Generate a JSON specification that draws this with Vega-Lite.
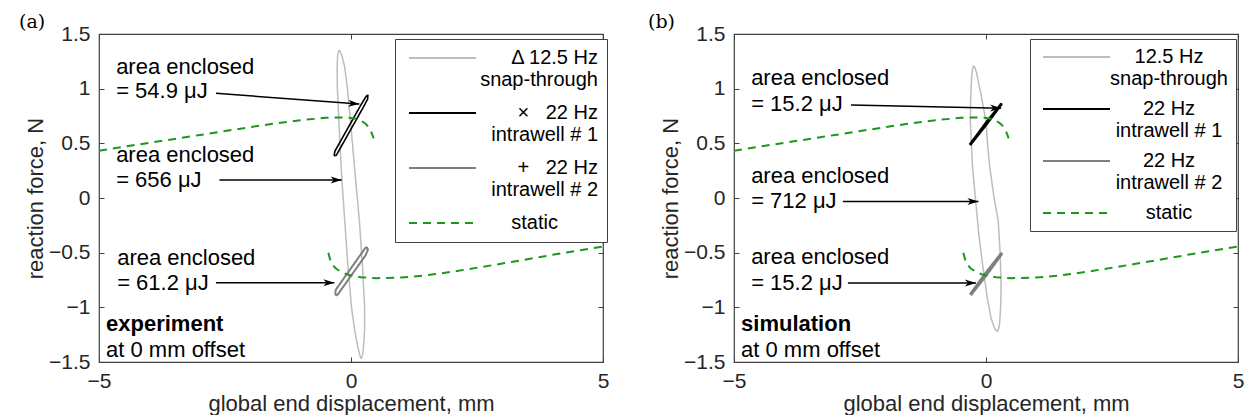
{
  "$schema": "https://vega.github.io/schema/vega-lite/v6.json",
  "background": "white",
  "padding": {"left": 18, "top": 12, "right": 0, "bottom": 0},
  "autosize": {"type": "pad"},
  "bounds": "flush",
  "spacing": 131,
  "datasets": {
    "loopsA": [
      {"series": "snap-through", "order": 0, "x": -0.23, "y": 1.354},
      {"series": "snap-through", "order": 1, "x": -0.25, "y": 1.335},
      {"series": "snap-through", "order": 2, "x": -0.265, "y": 1.3},
      {"series": "snap-through", "order": 3, "x": -0.275, "y": 1.2},
      {"series": "snap-through", "order": 4, "x": -0.27, "y": 1.0},
      {"series": "snap-through", "order": 5, "x": -0.25, "y": 0.8},
      {"series": "snap-through", "order": 6, "x": -0.23, "y": 0.6},
      {"series": "snap-through", "order": 7, "x": -0.185, "y": 0.2},
      {"series": "snap-through", "order": 8, "x": -0.125, "y": -0.2},
      {"series": "snap-through", "order": 9, "x": -0.065, "y": -0.6},
      {"series": "snap-through", "order": 10, "x": 0.01, "y": -1.0},
      {"series": "snap-through", "order": 11, "x": 0.07, "y": -1.2},
      {"series": "snap-through", "order": 12, "x": 0.13, "y": -1.35},
      {"series": "snap-through", "order": 13, "x": 0.165, "y": -1.42},
      {"series": "snap-through", "order": 14, "x": 0.185, "y": -1.455},
      {"series": "snap-through", "order": 15, "x": 0.2, "y": -1.467},
      {"series": "snap-through", "order": 16, "x": 0.215, "y": -1.455},
      {"series": "snap-through", "order": 17, "x": 0.235, "y": -1.42},
      {"series": "snap-through", "order": 18, "x": 0.25, "y": -1.35},
      {"series": "snap-through", "order": 19, "x": 0.27, "y": -1.2},
      {"series": "snap-through", "order": 20, "x": 0.27, "y": -1.0},
      {"series": "snap-through", "order": 21, "x": 0.225, "y": -0.6},
      {"series": "snap-through", "order": 22, "x": 0.165, "y": -0.2},
      {"series": "snap-through", "order": 23, "x": 0.085, "y": 0.2},
      {"series": "snap-through", "order": 24, "x": 0.01, "y": 0.6},
      {"series": "snap-through", "order": 25, "x": -0.03, "y": 0.8},
      {"series": "snap-through", "order": 26, "x": -0.07, "y": 1.0},
      {"series": "snap-through", "order": 27, "x": -0.125, "y": 1.2},
      {"series": "snap-through", "order": 28, "x": -0.18, "y": 1.3},
      {"series": "snap-through", "order": 29, "x": -0.21, "y": 1.335},
      {"series": "snap-through", "order": 30, "x": -0.23, "y": 1.354},
      {"series": "intrawell # 1", "order": 0, "x": -0.335, "y": 0.385},
      {"series": "intrawell # 1", "order": 1, "x": -0.32, "y": 0.428},
      {"series": "intrawell # 1", "order": 2, "x": -0.2, "y": 0.526},
      {"series": "intrawell # 1", "order": 3, "x": 0.0, "y": 0.69},
      {"series": "intrawell # 1", "order": 4, "x": 0.2, "y": 0.854},
      {"series": "intrawell # 1", "order": 5, "x": 0.3, "y": 0.93},
      {"series": "intrawell # 1", "order": 6, "x": 0.335, "y": 0.94},
      {"series": "intrawell # 1", "order": 7, "x": 0.33, "y": 0.905},
      {"series": "intrawell # 1", "order": 8, "x": 0.25, "y": 0.835},
      {"series": "intrawell # 1", "order": 9, "x": 0.05, "y": 0.671},
      {"series": "intrawell # 1", "order": 10, "x": -0.15, "y": 0.507},
      {"series": "intrawell # 1", "order": 11, "x": -0.29, "y": 0.392},
      {"series": "intrawell # 1", "order": 12, "x": -0.335, "y": 0.385},
      {"series": "intrawell # 2", "order": 0, "x": -0.312, "y": -0.868},
      {"series": "intrawell # 2", "order": 1, "x": -0.305, "y": -0.845},
      {"series": "intrawell # 2", "order": 2, "x": -0.28, "y": -0.824},
      {"series": "intrawell # 2", "order": 3, "x": -0.1, "y": -0.707},
      {"series": "intrawell # 2", "order": 4, "x": 0.1, "y": -0.577},
      {"series": "intrawell # 2", "order": 5, "x": 0.29, "y": -0.453},
      {"series": "intrawell # 2", "order": 6, "x": 0.32, "y": -0.455},
      {"series": "intrawell # 2", "order": 7, "x": 0.335, "y": -0.47},
      {"series": "intrawell # 2", "order": 8, "x": 0.32, "y": -0.49},
      {"series": "intrawell # 2", "order": 9, "x": 0.29, "y": -0.524},
      {"series": "intrawell # 2", "order": 10, "x": 0.1, "y": -0.647},
      {"series": "intrawell # 2", "order": 11, "x": -0.1, "y": -0.777},
      {"series": "intrawell # 2", "order": 12, "x": -0.26, "y": -0.881},
      {"series": "intrawell # 2", "order": 13, "x": -0.29, "y": -0.89},
      {"series": "intrawell # 2", "order": 14, "x": -0.308, "y": -0.882},
      {"series": "intrawell # 2", "order": 15, "x": -0.312, "y": -0.868}
    ],
    "loopsB": [
      {"series": "snap-through", "order": 0, "x": -0.25, "y": 1.21},
      {"series": "snap-through", "order": 1, "x": -0.27, "y": 1.17},
      {"series": "snap-through", "order": 2, "x": -0.285, "y": 1.1},
      {"series": "snap-through", "order": 3, "x": -0.305, "y": 0.9},
      {"series": "snap-through", "order": 4, "x": -0.31, "y": 0.7},
      {"series": "snap-through", "order": 5, "x": -0.29, "y": 0.5},
      {"series": "snap-through", "order": 6, "x": -0.27, "y": 0.3},
      {"series": "snap-through", "order": 7, "x": -0.21, "y": 0.0},
      {"series": "snap-through", "order": 8, "x": -0.15, "y": -0.3},
      {"series": "snap-through", "order": 9, "x": -0.07, "y": -0.6},
      {"series": "snap-through", "order": 10, "x": 0.02, "y": -0.9},
      {"series": "snap-through", "order": 11, "x": 0.1, "y": -1.1},
      {"series": "snap-through", "order": 12, "x": 0.17, "y": -1.19},
      {"series": "snap-through", "order": 13, "x": 0.2, "y": -1.212},
      {"series": "snap-through", "order": 14, "x": 0.23, "y": -1.22},
      {"series": "snap-through", "order": 15, "x": 0.255, "y": -1.19},
      {"series": "snap-through", "order": 16, "x": 0.27, "y": -1.15},
      {"series": "snap-through", "order": 17, "x": 0.29, "y": -1.0},
      {"series": "snap-through", "order": 18, "x": 0.3, "y": -0.8},
      {"series": "snap-through", "order": 19, "x": 0.28, "y": -0.5},
      {"series": "snap-through", "order": 20, "x": 0.24, "y": -0.2},
      {"series": "snap-through", "order": 21, "x": 0.16, "y": 0.0},
      {"series": "snap-through", "order": 22, "x": 0.07, "y": 0.3},
      {"series": "snap-through", "order": 23, "x": 0.03, "y": 0.5},
      {"series": "snap-through", "order": 24, "x": 0.0, "y": 0.7},
      {"series": "snap-through", "order": 25, "x": -0.1, "y": 0.95},
      {"series": "snap-through", "order": 26, "x": -0.19, "y": 1.15},
      {"series": "snap-through", "order": 27, "x": -0.22, "y": 1.195},
      {"series": "snap-through", "order": 28, "x": -0.25, "y": 1.21},
      {"series": "intrawell # 1", "order": 0, "x": -0.32, "y": 0.485},
      {"series": "intrawell # 1", "order": 1, "x": 0.0, "y": 0.684},
      {"series": "intrawell # 1", "order": 2, "x": 0.3, "y": 0.857},
      {"series": "intrawell # 1", "order": 3, "x": 0.0, "y": 0.672},
      {"series": "intrawell # 1", "order": 4, "x": -0.32, "y": 0.485},
      {"series": "intrawell # 2", "order": 0, "x": -0.31, "y": -0.886},
      {"series": "intrawell # 2", "order": 1, "x": 0.0, "y": -0.69},
      {"series": "intrawell # 2", "order": 2, "x": 0.3, "y": -0.514},
      {"series": "intrawell # 2", "order": 3, "x": 0.0, "y": -0.703},
      {"series": "intrawell # 2", "order": 4, "x": -0.31, "y": -0.886}
    ],
    "static": [
      {"series": "static", "branch": "upper", "order": 0, "x": -5, "y": 0.433},
      {"series": "static", "branch": "upper", "order": 1, "x": -4, "y": 0.505},
      {"series": "static", "branch": "upper", "order": 2, "x": -3, "y": 0.576},
      {"series": "static", "branch": "upper", "order": 3, "x": -2, "y": 0.648},
      {"series": "static", "branch": "upper", "order": 4, "x": -1.5, "y": 0.683},
      {"series": "static", "branch": "upper", "order": 5, "x": -1, "y": 0.712},
      {"series": "static", "branch": "upper", "order": 6, "x": -0.5, "y": 0.733},
      {"series": "static", "branch": "upper", "order": 7, "x": -0.2, "y": 0.737},
      {"series": "static", "branch": "upper", "order": 8, "x": 0.0, "y": 0.732},
      {"series": "static", "branch": "upper", "order": 9, "x": 0.1, "y": 0.725},
      {"series": "static", "branch": "upper", "order": 10, "x": 0.2, "y": 0.708},
      {"series": "static", "branch": "upper", "order": 11, "x": 0.3, "y": 0.675},
      {"series": "static", "branch": "upper", "order": 12, "x": 0.36, "y": 0.64},
      {"series": "static", "branch": "upper", "order": 13, "x": 0.41, "y": 0.595},
      {"series": "static", "branch": "upper", "order": 14, "x": 0.45, "y": 0.545},
      {"series": "static", "branch": "lower", "order": 0, "x": -0.45, "y": -0.5},
      {"series": "static", "branch": "lower", "order": 1, "x": -0.41, "y": -0.57},
      {"series": "static", "branch": "lower", "order": 2, "x": -0.36, "y": -0.615},
      {"series": "static", "branch": "lower", "order": 3, "x": -0.3, "y": -0.645},
      {"series": "static", "branch": "lower", "order": 4, "x": -0.2, "y": -0.675},
      {"series": "static", "branch": "lower", "order": 5, "x": -0.1, "y": -0.695},
      {"series": "static", "branch": "lower", "order": 6, "x": 0.0, "y": -0.708},
      {"series": "static", "branch": "lower", "order": 7, "x": 0.2, "y": -0.724},
      {"series": "static", "branch": "lower", "order": 8, "x": 0.5, "y": -0.733},
      {"series": "static", "branch": "lower", "order": 9, "x": 1, "y": -0.728},
      {"series": "static", "branch": "lower", "order": 10, "x": 1.5, "y": -0.707},
      {"series": "static", "branch": "lower", "order": 11, "x": 2, "y": -0.675},
      {"series": "static", "branch": "lower", "order": 12, "x": 3, "y": -0.6},
      {"series": "static", "branch": "lower", "order": 13, "x": 4, "y": -0.52},
      {"series": "static", "branch": "lower", "order": 14, "x": 5, "y": -0.443}
    ],
    "arrows": [
      {"panel": "a", "x": -2.68, "y": 0.957, "x2": 0.165, "y2": 0.86},
      {"panel": "a", "x": -2.61, "y": 0.164, "x2": -0.185, "y2": 0.164},
      {"panel": "a", "x": -2.68, "y": -0.775, "x2": -0.33, "y2": -0.775},
      {"panel": "b", "x": -2.68, "y": 0.85, "x2": 0.3, "y2": 0.822},
      {"panel": "b", "x": -2.84, "y": -0.033, "x2": -0.15, "y2": -0.033},
      {"panel": "b", "x": -2.74, "y": -0.778, "x2": -0.2, "y2": -0.778}
    ],
    "notes": [
      {"panel": "a", "role": "note", "x": -4.66, "y": 1.134, "text": "area enclosed"},
      {"panel": "a", "role": "note", "x": -4.66, "y": 0.912, "text": "= 54.9 μJ"},
      {"panel": "a", "role": "note", "x": -4.66, "y": 0.332, "text": "area enclosed"},
      {"panel": "a", "role": "note", "x": -4.66, "y": 0.103, "text": "= 656 μJ"},
      {"panel": "a", "role": "note", "x": -4.64, "y": -0.613, "text": "area enclosed"},
      {"panel": "a", "role": "note", "x": -4.64, "y": -0.842, "text": "= 61.2 μJ"},
      {"panel": "a", "role": "case", "x": -4.86, "y": -1.214, "text": "experiment"},
      {"panel": "a", "role": "note", "x": -4.86, "y": -1.452, "text": "at 0 mm offset"},
      {"panel": "b", "role": "note", "x": -4.66, "y": 1.035, "text": "area enclosed"},
      {"panel": "b", "role": "note", "x": -4.66, "y": 0.797, "text": "= 15.2 μJ"},
      {"panel": "b", "role": "note", "x": -4.66, "y": 0.134, "text": "area enclosed"},
      {"panel": "b", "role": "note", "x": -4.66, "y": -0.09, "text": "= 712 μJ"},
      {"panel": "b", "role": "note", "x": -4.66, "y": -0.603, "text": "area enclosed"},
      {"panel": "b", "role": "note", "x": -4.66, "y": -0.838, "text": "= 15.2 μJ"},
      {"panel": "b", "role": "case", "x": -4.86, "y": -1.22, "text": "simulation"},
      {"panel": "b", "role": "note", "x": -4.86, "y": -1.453, "text": "at 0 mm offset"}
    ]
  },
  "resolve": {"scale": {"color": "independent", "strokeDash": "independent"}},
  "hconcat": [
    {
      "width": 504,
      "height": 328,
      "title": {"text": "(a)", "anchor": "start", "frame": "group", "dx": -80, "dy": 9, "offset": 0, "font": "DejaVu Serif", "fontSize": 19, "fontWeight": "normal", "color": "black"},
      "resolve": {"axis": {"x": "independent", "y": "independent"}},
      "layer": [
        {
          "data": {"name": "loopsA"},
          "transform": [{"filter": "datum.series == 'snap-through'"}],
          "mark": {"type": "line", "strokeWidth": 1.5, "strokeJoin": "round"},
          "encoding": {
            "x": {"field": "x", "type": "quantitative", "scale": {"domain": [-5, 5], "nice": false, "zero": false}, "axis": {"values": [-5, 0, 5], "title": "global end displacement, mm"}},
            "y": {"field": "y", "type": "quantitative", "scale": {"domain": [-1.5, 1.5], "nice": false, "zero": false}, "axis": {"values": [-1.5, -1, -0.5, 0, 0.5, 1, 1.5], "format": "~g", "title": "reaction force, N"}},
            "order": {"field": "order", "type": "quantitative"},
            "color": {"field": "series", "type": "nominal", "scale": {"domain": ["snap-through", "intrawell # 1", "intrawell # 2", "static"], "range": ["#bdbdbd", "#000000", "#7f7f7f", "#1e961e"]},
              "legend": {"orient": "none", "legendX": 296, "legendY": 5, "padding": 9, "labelAlign": "right", "labelOffset": 174, "rowPadding": 13,
                "labelExpr": "datum.value == 'snap-through' ? ['Δ 12.5 Hz', 'snap-through'] : datum.value == 'intrawell # 1' ? ['×\u00a0\u00a0\u00a022 Hz\u00a0\u00a0', 'intrawell # 1'] : datum.value == 'intrawell # 2' ? ['+\u00a0\u00a0\u00a022 Hz\u00a0\u00a0', 'intrawell # 2'] : 'static'",
                "encode": {"labels": {"update": {"dx": {"signal": "datum.value == 'static' ? -40 : 0"}}}}}},
            "strokeDash": {"field": "series", "type": "nominal", "scale": {"domain": ["snap-through", "intrawell # 1", "intrawell # 2", "static"], "range": [[1, 0], [1, 0], [1, 0], [8, 6]]},
              "legend": {"orient": "none", "legendX": 296, "legendY": 5, "padding": 9, "labelAlign": "right", "labelOffset": 174, "rowPadding": 13,
                "labelExpr": "datum.value == 'snap-through' ? ['Δ 12.5 Hz', 'snap-through'] : datum.value == 'intrawell # 1' ? ['×\u00a0\u00a0\u00a022 Hz\u00a0\u00a0', 'intrawell # 1'] : datum.value == 'intrawell # 2' ? ['+\u00a0\u00a0\u00a022 Hz\u00a0\u00a0', 'intrawell # 2'] : 'static'",
                "encode": {"labels": {"update": {"dx": {"signal": "datum.value == 'static' ? -40 : 0"}}}}}}
          }
        },
        {
          "data": {"name": "loopsA"},
          "transform": [{"filter": "datum.series == 'intrawell # 1'"}],
          "mark": {"type": "line", "strokeWidth": 1.6, "strokeJoin": "round"},
          "encoding": {
            "x": {"field": "x", "type": "quantitative", "axis": null},
            "y": {"field": "y", "type": "quantitative", "axis": null},
            "order": {"field": "order", "type": "quantitative"},
            "color": {"field": "series", "type": "nominal"},
            "strokeDash": {"field": "series", "type": "nominal"}
          }
        },
        {
          "data": {"name": "loopsA"},
          "transform": [{"filter": "datum.series == 'intrawell # 2'"}],
          "mark": {"type": "line", "strokeWidth": 2, "strokeJoin": "round"},
          "encoding": {
            "x": {"field": "x", "type": "quantitative", "axis": null},
            "y": {"field": "y", "type": "quantitative", "axis": null},
            "order": {"field": "order", "type": "quantitative"},
            "color": {"field": "series", "type": "nominal"},
            "strokeDash": {"field": "series", "type": "nominal"}
          }
        },
        {
          "data": {"name": "static"},
          "mark": {"type": "line", "strokeWidth": 2},
          "encoding": {
            "x": {"field": "x", "type": "quantitative", "axis": {"orient": "top", "values": [-5, 0, 5], "labels": false, "title": null}},
            "y": {"field": "y", "type": "quantitative", "axis": {"orient": "right", "values": [-1.5, -1, -0.5, 0, 0.5, 1, 1.5], "labels": false, "title": null}},
            "detail": {"field": "branch"},
            "order": {"field": "order", "type": "quantitative"},
            "color": {"field": "series", "type": "nominal"},
            "strokeDash": {"field": "series", "type": "nominal"}
          }
        },
        {
          "data": {"name": "arrows"},
          "transform": [{"filter": "datum.panel == 'a'"}],
          "mark": {"type": "rule", "color": "black", "strokeWidth": 1.5},
          "encoding": {
            "x": {"field": "x", "type": "quantitative", "axis": null},
            "y": {"field": "y", "type": "quantitative", "axis": null},
            "x2": {"field": "x2"},
            "y2": {"field": "y2"}
          }
        },
        {
          "data": {"name": "arrows"},
          "transform": [{"filter": "datum.panel == 'a'"}],
          "mark": {"type": "point", "shape": "M0,0L-2.2,-0.7L-1.6,0L-2.2,0.7Z", "filled": true, "size": 100, "color": "black", "opacity": 1},
          "encoding": {
            "x": {"field": "x2", "type": "quantitative", "axis": null},
            "y": {"field": "y2", "type": "quantitative", "axis": null},
            "angle": {"condition": {"test": "datum.y != datum.y2", "value": 4.2}, "value": 0}
          }
        },
        {
          "data": {"name": "notes"},
          "transform": [{"filter": "datum.panel == 'a' && datum.role == 'note'"}],
          "mark": {"type": "text", "align": "left", "baseline": "alphabetic", "font": "Liberation Sans", "fontSize": 22, "color": "black"},
          "encoding": {
            "x": {"field": "x", "type": "quantitative", "axis": null},
            "y": {"field": "y", "type": "quantitative", "axis": null},
            "text": {"field": "text"}
          }
        },
        {
          "data": {"name": "notes"},
          "transform": [{"filter": "datum.panel == 'a' && datum.role == 'case'"}],
          "mark": {"type": "text", "align": "left", "baseline": "alphabetic", "font": "Liberation Sans", "fontSize": 22, "fontWeight": "bold", "color": "black"},
          "encoding": {
            "x": {"field": "x", "type": "quantitative", "axis": null},
            "y": {"field": "y", "type": "quantitative", "axis": null},
            "text": {"field": "text"}
          }
        }
      ]
    },
    {
      "width": 504,
      "height": 328,
      "title": {"text": "(b)", "anchor": "start", "frame": "group", "dx": -86, "dy": 9, "offset": 0, "font": "DejaVu Serif", "fontSize": 19, "fontWeight": "normal", "color": "black"},
      "resolve": {"axis": {"x": "independent", "y": "independent"}},
      "layer": [
        {
          "data": {"name": "loopsB"},
          "transform": [{"filter": "datum.series == 'snap-through'"}],
          "mark": {"type": "line", "strokeWidth": 1.5, "strokeJoin": "round"},
          "encoding": {
            "x": {"field": "x", "type": "quantitative", "scale": {"domain": [-5, 5], "nice": false, "zero": false}, "axis": {"values": [-5, 0, 5], "title": "global end displacement, mm"}},
            "y": {"field": "y", "type": "quantitative", "scale": {"domain": [-1.5, 1.5], "nice": false, "zero": false}, "axis": {"values": [-1.5, -1, -0.5, 0, 0.5, 1, 1.5], "format": "~g", "title": "reaction force, N"}},
            "order": {"field": "order", "type": "quantitative"},
            "color": {"field": "series", "type": "nominal", "scale": {"domain": ["snap-through", "intrawell # 1", "intrawell # 2", "static"], "range": ["#bdbdbd", "#000000", "#7f7f7f", "#1e961e"]},
              "legend": {"orient": "none", "legendX": 296, "legendY": 5, "labelAlign": "center", "labelOffset": 111, "rowPadding": 10,
                "labelExpr": "datum.value == 'snap-through' ? ['12.5 Hz', 'snap-through'] : datum.value == 'intrawell # 1' ? ['22 Hz', 'intrawell # 1'] : datum.value == 'intrawell # 2' ? ['22 Hz', 'intrawell # 2'] : 'static'"}},
            "strokeDash": {"field": "series", "type": "nominal", "scale": {"domain": ["snap-through", "intrawell # 1", "intrawell # 2", "static"], "range": [[1, 0], [1, 0], [1, 0], [8, 6]]},
              "legend": {"orient": "none", "legendX": 296, "legendY": 5, "labelAlign": "center", "labelOffset": 111, "rowPadding": 10,
                "labelExpr": "datum.value == 'snap-through' ? ['12.5 Hz', 'snap-through'] : datum.value == 'intrawell # 1' ? ['22 Hz', 'intrawell # 1'] : datum.value == 'intrawell # 2' ? ['22 Hz', 'intrawell # 2'] : 'static'"}}
          }
        },
        {
          "data": {"name": "loopsB"},
          "transform": [{"filter": "datum.series == 'intrawell # 1'"}],
          "mark": {"type": "line", "strokeWidth": 3, "strokeJoin": "round"},
          "encoding": {
            "x": {"field": "x", "type": "quantitative", "axis": null},
            "y": {"field": "y", "type": "quantitative", "axis": null},
            "order": {"field": "order", "type": "quantitative"},
            "color": {"field": "series", "type": "nominal"},
            "strokeDash": {"field": "series", "type": "nominal"}
          }
        },
        {
          "data": {"name": "loopsB"},
          "transform": [{"filter": "datum.series == 'intrawell # 2'"}],
          "mark": {"type": "line", "strokeWidth": 3.5, "strokeJoin": "round"},
          "encoding": {
            "x": {"field": "x", "type": "quantitative", "axis": null},
            "y": {"field": "y", "type": "quantitative", "axis": null},
            "order": {"field": "order", "type": "quantitative"},
            "color": {"field": "series", "type": "nominal"},
            "strokeDash": {"field": "series", "type": "nominal"}
          }
        },
        {
          "data": {"name": "static"},
          "mark": {"type": "line", "strokeWidth": 2},
          "encoding": {
            "x": {"field": "x", "type": "quantitative", "axis": {"orient": "top", "values": [-5, 0, 5], "labels": false, "title": null}},
            "y": {"field": "y", "type": "quantitative", "axis": {"orient": "right", "values": [-1.5, -1, -0.5, 0, 0.5, 1, 1.5], "labels": false, "title": null}},
            "detail": {"field": "branch"},
            "order": {"field": "order", "type": "quantitative"},
            "color": {"field": "series", "type": "nominal"},
            "strokeDash": {"field": "series", "type": "nominal"}
          }
        },
        {
          "data": {"name": "arrows"},
          "transform": [{"filter": "datum.panel == 'b'"}],
          "mark": {"type": "rule", "color": "black", "strokeWidth": 1.5},
          "encoding": {
            "x": {"field": "x", "type": "quantitative", "axis": null},
            "y": {"field": "y", "type": "quantitative", "axis": null},
            "x2": {"field": "x2"},
            "y2": {"field": "y2"}
          }
        },
        {
          "data": {"name": "arrows"},
          "transform": [{"filter": "datum.panel == 'b'"}],
          "mark": {"type": "point", "shape": "M0,0L-2.2,-0.7L-1.6,0L-2.2,0.7Z", "filled": true, "size": 100, "color": "black", "opacity": 1},
          "encoding": {
            "x": {"field": "x2", "type": "quantitative", "axis": null},
            "y": {"field": "y2", "type": "quantitative", "axis": null},
            "angle": {"condition": {"test": "datum.y != datum.y2", "value": 1.2}, "value": 0}
          }
        },
        {
          "data": {"name": "notes"},
          "transform": [{"filter": "datum.panel == 'b' && datum.role == 'note'"}],
          "mark": {"type": "text", "align": "left", "baseline": "alphabetic", "font": "Liberation Sans", "fontSize": 22, "color": "black"},
          "encoding": {
            "x": {"field": "x", "type": "quantitative", "axis": null},
            "y": {"field": "y", "type": "quantitative", "axis": null},
            "text": {"field": "text"}
          }
        },
        {
          "data": {"name": "notes"},
          "transform": [{"filter": "datum.panel == 'b' && datum.role == 'case'"}],
          "mark": {"type": "text", "align": "left", "baseline": "alphabetic", "font": "Liberation Sans", "fontSize": 22, "fontWeight": "bold", "color": "black"},
          "encoding": {
            "x": {"field": "x", "type": "quantitative", "axis": null},
            "y": {"field": "y", "type": "quantitative", "axis": null},
            "text": {"field": "text"}
          }
        }
      ]
    }
  ],
  "config": {
    "font": "Liberation Sans",
    "view": {"stroke": "#404040", "strokeWidth": 1.2},
    "axis": {"domain": false, "grid": false, "ticks": true, "tickSize": -5, "tickColor": "#404040", "labelFlush": false, "labelFont": "Liberation Sans", "labelFontSize": 21, "labelColor": "#262626", "titleFont": "Liberation Sans", "titleFontSize": 22, "titleFontWeight": "normal", "titleColor": "#262626"},
    "axisX": {"labelPadding": 13, "titlePadding": 2},
    "axisY": {"labelPadding": 14, "titlePadding": 1},
    "legend": {"title": null, "strokeColor": "#404040", "fillColor": "white", "padding": 8, "symbolType": "M-1,0H12.4", "symbolSize": 100, "symbolStrokeWidth": 2, "labelFont": "Liberation Sans", "labelFontSize": 20, "labelColor": "black", "labelLimit": 0, "labelBaseline": "middle"}
  }
}
